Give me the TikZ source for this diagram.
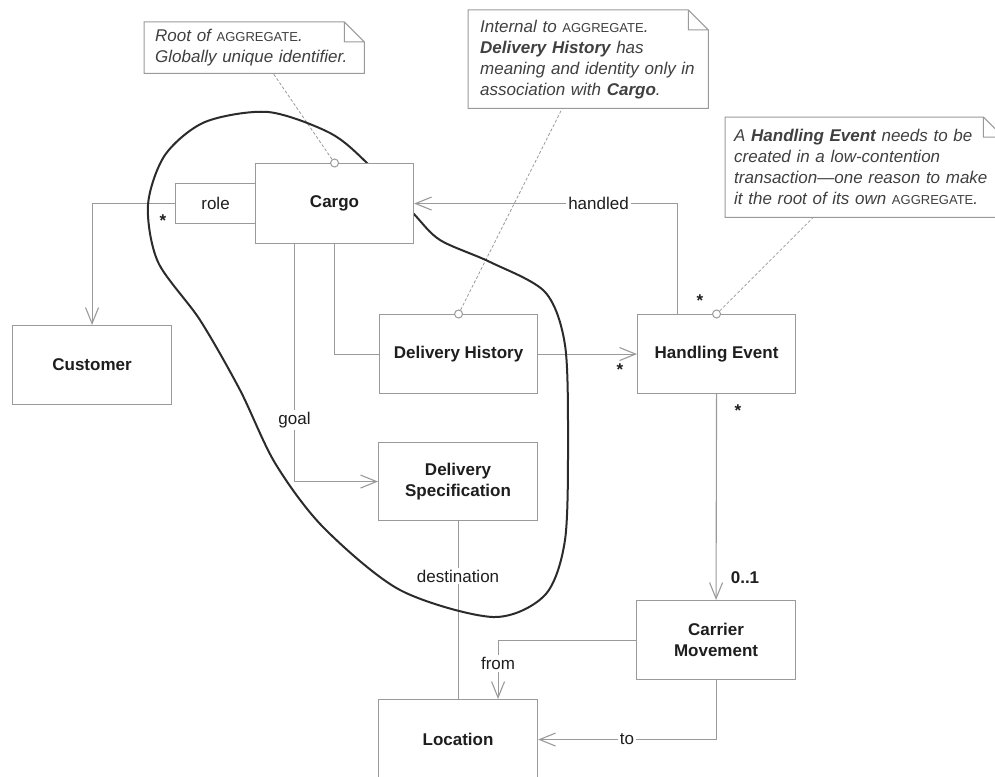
\documentclass[tikz,border=0pt]{standalone}
\usepackage{fontspec}
\setmainfont{Liberation Sans}
\usepackage{tikz}
\usetikzlibrary{positioning,arrows.meta,calc,backgrounds}
\definecolor{linegray}{HTML}{9A9A9A}
\definecolor{inkdark}{HTML}{1E1E1E}
\definecolor{loopdark}{HTML}{2B2B2B}
\newcommand{\basefont}{\fontsize{17}{21}\selectfont}
\newcommand{\agg}{{\upshape\fontsize{13}{21}\selectfont AGGREGATE}}
\tikzset{
  classbox/.style   = {rectangle, draw=linegray, fill=white, line width=1.1pt, anchor=north west,
                       minimum width=159pt, minimum height=79pt, inner sep=0pt, align=center,
                       font=\basefont\bfseries},
  rolebox/.style    = {classbox, minimum width=80pt, minimum height=40pt, font=\basefont},
  assoc/.style      = {draw=linegray, line width=1.1pt},
  nav/.style        = {assoc, -{Straight Barb[length=16pt, width=13pt]}},
  lbl/.style        = {fill=white, inner sep=2pt, font=\basefont},
  mult/.style       = {inner sep=1pt, font=\basefont\bfseries},
  notebox/.style    = {anchor=north west, fill=white, inner xsep=11pt, inner ysep=0pt, align=left,
                       font=\basefont\itshape, text=inkdark!85},
  notefold/.style   = {draw=linegray, line width=1pt},
  anchorlink/.style = {draw=linegray, line width=0.8pt, dash pattern=on 3pt off 2pt},
  pinhole/.style    = {circle, draw=linegray, fill=white, line width=1pt, minimum size=8pt, inner sep=0pt},
  boundary/.style   = {draw=loopdark, line width=2pt},
}

\begin{document}
\begin{tikzpicture}[x=1pt, y=-1pt, text=inkdark]
  \useasboundingbox (0,0) rectangle (995,776);
  \clip (0,0) rectangle (995,776);

  % classes
  \node[classbox, minimum width=158pt, minimum height=80pt] (cargo) at (255,163) {Cargo};
  \node[rolebox] (role) at (175,183) {role};
  \node[classbox] (customer) at (12,325) {Customer};
  \node[classbox, minimum width=158pt] (dhist) at (379,314) {Delivery History};
  \node[classbox, minimum width=158pt] (hevent) at (637,314) {Handling Event};
  \node[classbox, minimum height=78pt] (dspec) at (378,442) {Delivery\\Specification};
  \node[classbox] (carrier) at (636,600) {Carrier\\Movement};
  \node[classbox, minimum height=80pt] (location) at (378,699) {Location};

  % notes
  \node[notebox, text width=198pt, minimum height=51pt] (rootnote) at (144,22)
    {Root of \agg.\\Globally unique identifier.};
  \node[notebox, inner xsep=12pt, text width=216pt, minimum height=98pt] (internnote) at (468,10)
    {Internal to \agg.\\\textbf{Delivery History} has\\meaning and identity only in\\association with \textbf{Cargo}.};
  \node[notebox, inner xsep=9pt, text width=260pt, minimum height=100pt] (eventnote) at (725,117)
    {A \textbf{Handling Event} needs to be\\created in a low-contention\\transaction---one reason to make\\it the root of its own \agg.};
  \foreach \n in {rootnote,internnote,eventnote}
    \draw[notefold] (\n.north west) -- ([xshift=-20pt]\n.north east) -- ([yshift=-20pt]\n.north east)
      -- (\n.south east) -- (\n.south west) -- cycle
      ([xshift=-20pt]\n.north east) |- ([yshift=-20pt]\n.north east);

  \node[pinhole] (cargohole) at (cargo.north) {};
  \node[pinhole] (dhisthole) at (dhist.north) {};
  \node[pinhole] (heventhole) at (hevent.north) {};

  % multiplicities
  \node[mult] (rolestar) at (163,221) {*};
  \node[mult] (dhiststar) at (620,370) {*};
  \node[mult] (handledstar) at (700,301) {*};
  \node[mult] (heventstar) at (738,411) {*};
  \node[mult] (carrierone) at (745,578) {0..1};

  \begin{scope}[on background layer]
    \draw[nav] (role.west) -| (customer.north);
    \draw[assoc] (cargo.south) |- (dhist.west);
    \draw[nav] ([xshift=-40pt]cargo.south) |- node[lbl, pos=0.37] (goallbl) {goal} (dspec.west);
    \draw[nav] (dhist.east) -- (hevent.west);
    \draw[nav] ([xshift=-39pt]hevent.north) |- node[lbl, pos=0.65] (handledlbl) {handled} (cargo.east);
    \draw[nav] (hevent.south) -- (carrier.north);
    \draw[assoc] (dspec.south) -- node[lbl, pos=0.31] (destlbl) {destination} (location.north);
    \draw[nav] (carrier.west) -| node[lbl, pos=0.7] (fromlbl) {from} ([xshift=40pt]location.north);
    \draw[nav] (carrier.south) |- node[lbl, pos=0.75] (tolbl) {to} (location.east);

    \draw[anchorlink] (cargohole) -- ([xshift=19pt]rootnote.south);
    \draw[anchorlink] (dhisthole) -- ([xshift=-26pt]internnote.south);
    \draw[anchorlink] (heventhole) -- ([xshift=-51pt]eventnote.south);

    % aggregate boundary
    \draw[boundary] plot[smooth cycle] coordinates {
      (367,163) (330,133) (268,112) (205,122) (165,155) (148,205) (158,262) (200,320)
      (240,390) (275,463) (323,527) (400,590) (493,617) (545,595) (565,540) (568,440)
      (565,345) (545,292) (490,262) (440,240) (413,213)};
  \end{scope}
\end{tikzpicture}
\end{document}
